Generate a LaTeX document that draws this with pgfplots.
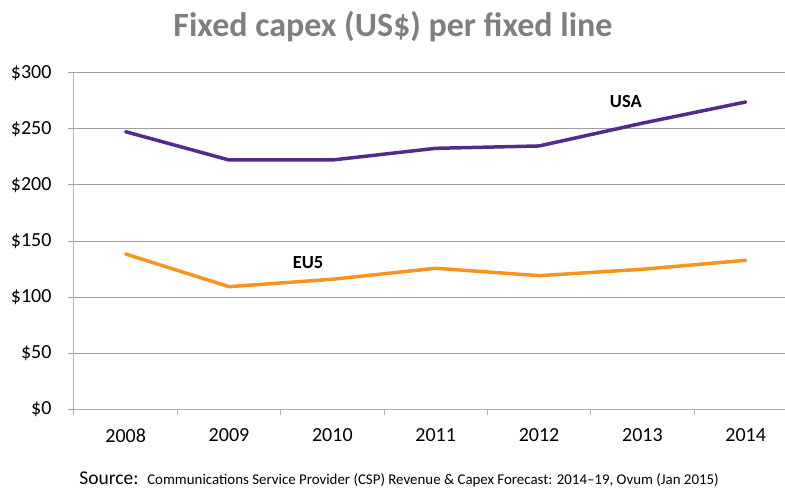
\documentclass[border=0pt]{standalone}
\usepackage{pgfplots}
\pgfplotsset{compat=1.18}
\usepackage{fontspec}
\setmainfont{Carlito}
\definecolor{usa}{RGB}{84,42,138}
\definecolor{eu}{RGB}{247,148,29}
\definecolor{gridc}{RGB}{160,160,160}
\definecolor{axc}{RGB}{180,180,180}
\definecolor{titlec}{RGB}{127,127,127}
\begin{document}
\begin{tikzpicture}[x=1pt,y=1pt]
\path[use as bounding box] (-74,-78.7) rectangle (711,409.3);
\begin{axis}[
  at={(0,0)}, anchor=south west,
  scale only axis, width=711pt, height=336.6pt,
  xmin=-0.5, xmax=6.38, ymin=0, ymax=300,
  axis x line*=bottom, axis y line*=left,
  axis line style={draw=axc, line width=1pt},
  xtick={0,1,2,3,4,5,6},
  xticklabels={2008,2009,2010,2011,2012,2013,2014},
  major x tick style={draw=none},
  minor xtick={-0.5,0.5,1.5,2.5,3.5,4.5,5.5},
  minor x tick style={draw=axc, line width=1pt},
  minor tick length=6pt,
  ytick={0,50,100,150,200,250,300},
  yticklabels={\$0,\$50,\$100,\$150,\$200,\$250,\$300},
  major y tick style={draw=gridc, line width=1pt},
  major tick length=6pt,
  tick align=outside,
  ymajorgrids, grid style={draw=gridc, line width=1pt},
  tick label style={font=\fontsize{20}{24}\selectfont, text=black},
  /pgf/number format/assume math mode=true,
  xticklabel style={yshift=-10pt},
  yticklabel style={xshift=-13pt},
  clip=false,
]
\addplot[usa, line width=3.5pt, line join=round, line cap=round] coordinates {
 (0,247.4) (1,222.2) (2,222.2) (3,232.6) (4,234.7) (5,255.0) (6,273.9)};
\addplot[eu, line width=3.5pt, line join=round, line cap=round] coordinates {
 (0,138.4) (1,109.3) (2,115.9) (3,125.7) (4,119.1) (5,124.8) (6,132.8)};
\node[font=\fontsize{18.5}{22}\selectfont\bfseries] at (axis cs:4.84,274) {USA};
\node[font=\fontsize{18.5}{22}\selectfont\bfseries] at (axis cs:1.765,130.7) {EU5};
\end{axis}
\node[font=\fontsize{34}{38}\selectfont\bfseries, text=titlec] at (319,383) {Fixed capex (US\$) per fixed line};
\node[anchor=base, inner sep=0pt] at (325,-75) {\fontsize{19.5}{22}\selectfont Source:\ \ \fontsize{14.9}{17}\selectfont Communications Service Provider (CSP) Revenue \& Capex Forecast: 2014--19, Ovum (Jan 2015)};
\end{tikzpicture}
\end{document}
